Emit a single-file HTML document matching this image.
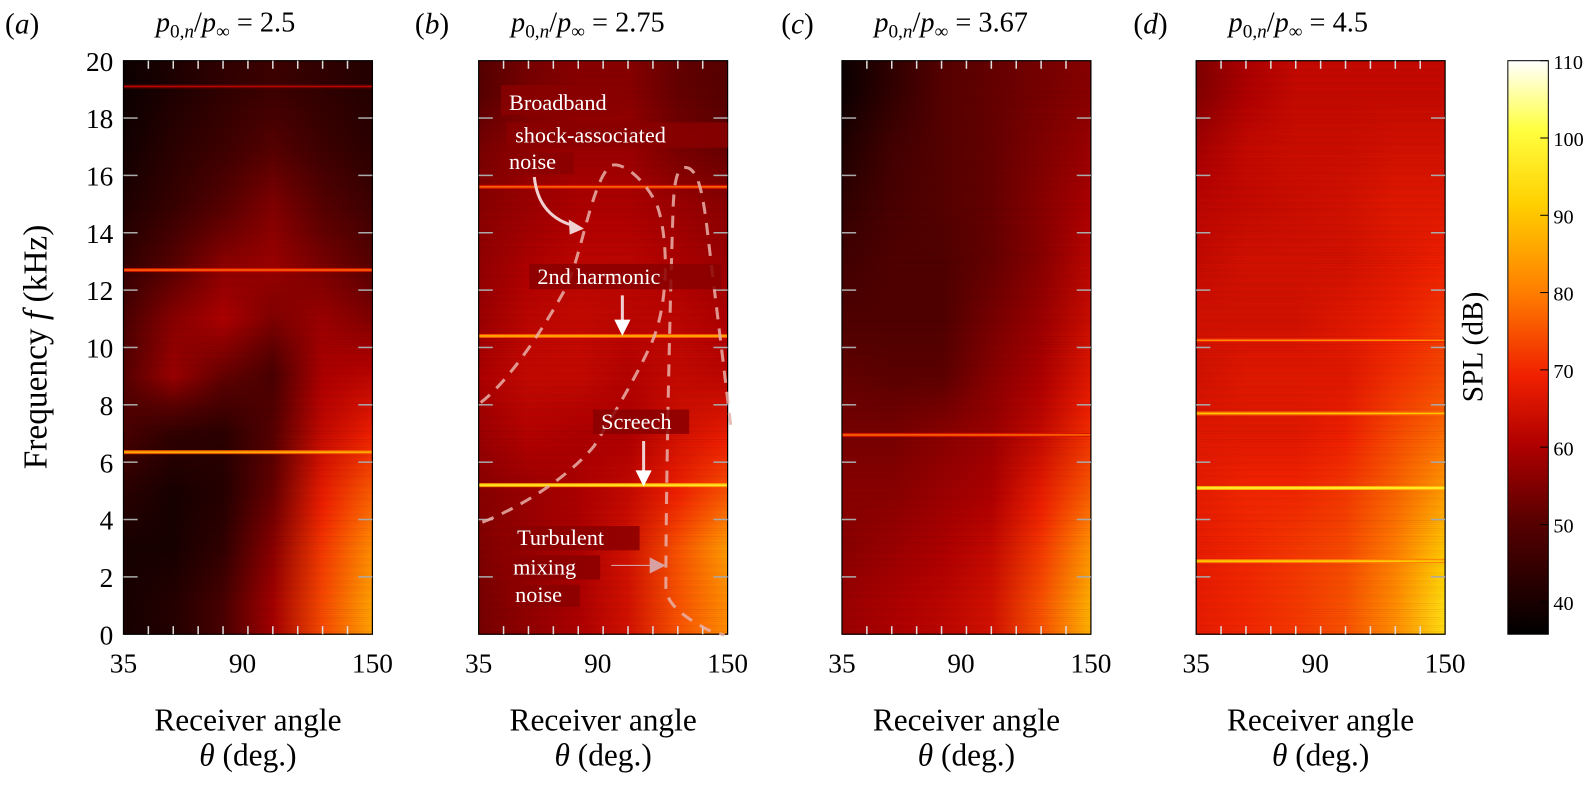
<!DOCTYPE html>
<html><head><meta charset="utf-8"><style>
html,body{margin:0;padding:0;overflow:hidden;background:#fff}
svg{display:block}
text{font-family:"Liberation Serif",serif;fill:#000}
</style></head><body>
<svg id="chart" width="1605" height="790" viewBox="0 0 1586 781" preserveAspectRatio="none" xmlns="http://www.w3.org/2000/svg">
<defs id="defs">
<linearGradient id="cbar" x1="0" y1="1" x2="0" y2="0">
<stop offset="0" stop-color="#000"/><stop offset="0.2" stop-color="#5a0000"/><stop offset="0.33" stop-color="#b00000"/><stop offset="0.45" stop-color="#f02000"/><stop offset="0.6" stop-color="#ff8000"/><stop offset="0.75" stop-color="#ffd000"/><stop offset="0.88" stop-color="#ffff40"/><stop offset="1" stop-color="#fff"/>
</linearGradient>
</defs>
<g id="root"></g>
</svg>
<script>
const angleCols=[35,58,81,104,127,150];
const freqRows=[19,17,15,13,11,9,7,5,3,1];
const titles=["2.5","2.75","3.67","4.5"];
const splA=[[38,41,44,46,44,42],[39,43,46,50,46,43],[41,45,50,55,50,46],[44,50,56,58,54,50],[48,56,60,55,58,55],[50,58,52,48,60,62],[48,44,43,50,63,69],[43,40,42,52,68,76],[40,40,44,56,72,82],[40,42,48,59,74,85]];
const splB=[[50,54,56,56,52,50],[54,57,58,58,54,52],[56,58,60,60,58,56],[57,60,62,62,60,58],[58,62,63,62,62,60],[60,63,63,61,63,62],[58,61,60,60,65,68],[56,58,60,63,69,75],[55,58,60,65,75,84],[54,57,60,65,75,82]];
const splC=[[38,44,50,52,54,56],[41,47,50,52,55,58],[44,48,50,52,56,60],[47,49,49,52,56,62],[49,49,49,54,58,64],[52,51,51,56,60,67],[54,54,56,58,63,71],[56,56,58,60,68,76],[56,58,60,63,72,83],[58,60,62,65,75,87]];
const splD=[[55,60,63,63,63,63],[59,63,64,64,65,65],[62,63,64,65,67,67],[63,65,65,65,67,69],[65,65,65,67,69,72],[65,67,67,67,71,74],[67,67,67,69,74,78],[68,70,70,72,77,84],[68,70,72,74,80,90],[68,70,72,75,82,94]];
const tonesA=[19.1,12.7,6.35];const toneLevA=[62,78,88];
const tonesB=[15.6,10.4,5.2];const toneLevB=[78,88,98];
const tonesC=[6.95];const toneLevC=[78];
const tonesD=[10.25,7.7,5.1,2.55];const toneLevD=[82,90,100,92];
const yTicks=[0,2,4,6,8,10,12,14,16,18,20];
const xTicks=[35,90,150];
const cbTicks=[40,50,60,70,80,90,100,110];

const NS="http://www.w3.org/2000/svg";
const root=document.getElementById('root');
const defs=document.getElementById('defs');
function el(t,a,p){const e=document.createElementNS(NS,t);for(const k in a)e.setAttribute(k,a[k]);(p||root).appendChild(e);return e;}
const stops=[[0,[0,0,0]],[0.2,[90,0,0]],[0.33,[176,0,0]],[0.45,[240,32,0]],[0.6,[255,128,0]],[0.75,[255,208,0]],[0.88,[255,255,64]],[1,[255,255,255]]];
function hot(v){let t=Math.max(0,Math.min(1,(v-36)/74));for(let i=1;i<stops.length;i++){if(t<=stops[i][0]){const a=stops[i-1],b=stops[i];const u=(t-a[0])/(b[0]-a[0]);const c=a[1].map((x,j)=>Math.round(x+(b[1][j]-x)*u));return `rgb(${c})`;}}return '#fff';}
const TOP=60,H=567,W=246;
const lefts=[122,473,832,1182];
const letterX=[5,410,772,1120];
const fy=f=>TOP+H*(1-f/20);
const data=[[splA,tonesA,toneLevA],[splB,tonesB,toneLevB],[splC,tonesC,toneLevC],[splD,tonesD,toneLevD]];
function valAt(grid,f,c){
 if(f>=freqRows[0])return grid[0][c];
 if(f<=freqRows[9])return grid[9][c];
 for(let r=0;r<9;r++){if(f<=freqRows[r]&&f>=freqRows[r+1]){const u=(freqRows[r]-f)/(freqRows[r]-freqRows[r+1]);return grid[r][c]+(grid[r+1][c]-grid[r][c])*u;}}
}
data.forEach((d,p)=>{
 const L=lefts[p];const ax=a=>L+W*(a-35)/115;
 const g=el('g',{});
 const cg=el('g',{},g);
 const RH=3;
 for(let y=TOP;y<TOP+H;y+=RH){
  const f=20*(1-(y+RH/2-TOP)/H);
  const id=`g${p}_${y}`;
  const lg=el('linearGradient',{id:id,x1:0,y1:0,x2:1,y2:0},defs);
  angleCols.forEach((a,c)=>{el('stop',{offset:(a-35)/115,'stop-color':hot(valAt(d[0],f,c))},lg);});
  const cell=el('rect',{x:L,y:y,width:W,height:Math.min(RH,TOP+H-y)+0.5,fill:`url(#${id})`},cg);
  
  
 }
 for(let y=TOP;y<TOP+H;y+=2){el('rect',{x:L,y:y,width:W,height:1,fill:'#000',opacity:((y*37)%11)/160},cg);}
 d[1].forEach((f,i)=>{
  const ln=el('rect',{x:L,y:fy(f)-2,width:W,height:4,fill:hot(d[2][i]-12),opacity:0.9},cg);
  
  
  const core=el('rect',{x:L,y:fy(f)-0.75,width:W,height:1.5,fill:hot(d[2][i])},cg);
  
  
 });
 el('rect',{x:L,y:TOP,width:W,height:H,fill:'none',stroke:'#000','stroke-width':1.2},g);
 for(let i=1;i<10;i++){const x=L+W*i/10;el('line',{x1:x,x2:x,y1:TOP,y2:TOP+8,stroke:'#ddd','stroke-width':1.5},g);el('line',{x1:x,x2:x,y1:TOP+H,y2:TOP+H-8,stroke:'#ddd','stroke-width':1.5},g);}
 yTicks.forEach(t=>{if(t>0&&t<20){el('line',{x1:L,x2:L+14,y1:fy(t),y2:fy(t),stroke:'#aaa','stroke-width':1.5},g);el('line',{x1:L+W-14,x2:L+W,y1:fy(t),y2:fy(t),stroke:'#aaa','stroke-width':1.5},g);}});
 xTicks.forEach(t=>{const tx=el('text',{x:ax(t),y:665,'font-size':27,'text-anchor':'middle'},g);tx.textContent=t;});
 const xl=el('text',{x:L+W/2,y:722,'font-size':31,'text-anchor':'middle'},g);xl.textContent='Receiver angle';
 const xl2=el('text',{x:L+W/2,y:757,'font-size':31,'text-anchor':'middle'},g);xl2.innerHTML='<tspan font-style="italic">θ</tspan> (deg.)';
 const pl=el('text',{x:letterX[p],y:33,'font-size':29},g);pl.innerHTML='(<tspan font-style="italic">'+'abcd'[p]+'</tspan>)';
 const tt=el('text',{x:L+32,y:31,'font-size':28},g);
 tt.innerHTML='<tspan font-style="italic">p</tspan><tspan font-size="19" dy="6">0,<tspan font-style="italic">n</tspan></tspan><tspan dy="-6">/</tspan><tspan font-style="italic">p</tspan><tspan font-size="19" dy="6">∞</tspan><tspan dy="-6"> = '+titles[p]+'</tspan>';
 
});
yTicks.forEach(t=>{const tx=el('text',{x:112,y:fy(t)+10,'font-size':27,'text-anchor':'end'});tx.textContent=t;});
const yl=el('text',{x:0,y:0,'font-size':33,'text-anchor':'middle',transform:'translate(46,343) rotate(-90)'});
yl.innerHTML='Frequency <tspan font-style="italic">f</tspan>  (kHz)';
const an=el('g',{});
const dash={fill:'none',stroke:'#e8b0a8','stroke-width':3,'stroke-dasharray':'12 9',opacity:0.85};
el('path',Object.assign({d:'M475,398 C505,375 540,320 560,283 C575,250 585,180 603,164 C615,158 640,180 650,205 C660,235 662,300 643,341 C625,380 600,420 587,441 C570,462 530,495 475,517'},dash),an);
el('path',Object.assign({d:'M722,420 C715,360 705,280 698,220 C694,190 690,170 680,166 C670,163 666,175 665,210 C662,300 658,480 658,582 C660,600 680,612 700,623 L716,628'},dash),an);
const boxes=[[495,84,118,30,'Broadband'],[501,121,218,25,'shock-associated'],[495,151,72,21,'noise'],[523,261,190,25,'2nd harmonic'],[586,405,95,24,'Screech'],[503,520,129,24,'Turbulent'],[499,549,94,24,'mixing'],[501,578,72,22,'noise']];
boxes.forEach(b=>{const r=el('rect',{x:b[0],y:b[1],width:b[2],height:b[3],fill:'#8a0000',opacity:0.85},an);
 const t=el('text',{x:b[0]+8,y:b[1]+b[3]-5,'font-size':22,style:'fill:#fff'},an);t.textContent=b[4];});
const ar={stroke:'#f0d0d0','stroke-width':3,fill:'none'};
el('path',Object.assign({d:'M528,175 Q532,215 570,224'},ar),an);el('path',{d:'M577,226 L562,217 L563,232 Z',fill:'#f0d0d0'},an);
el('line',Object.assign({x1:615,y1:292,x2:615,y2:322},ar),an);el('path',{d:'M615,332 L607,316 L623,316 Z',fill:'#fff'},an);
el('line',Object.assign({x1:636,y1:436,x2:636,y2:470},ar),an);el('path',{d:'M636,481 L628,465 L644,465 Z',fill:'#fff'},an);
el('line',Object.assign({x1:604,y1:559,x2:648,y2:559,stroke:'#d8a0a0'}),an);el('path',{d:'M658,559 L642,551 L642,567 Z',fill:'#d8a0a0'},an);
const cb=el('g',{});
el('rect',{x:1490,y:TOP,width:40,height:H,fill:'url(#cbar)',stroke:'#000','stroke-width':1},cb);
const cy=v=>TOP+H*(1-(v-35.8)/74.2);
cbTicks.forEach(v=>{el('line',{x1:1522,x2:1530,y1:cy(v),y2:cy(v),stroke:'#000'},cb);
 const t=el('text',{x:1535,y:cy(v)+8,'font-size':20},cb);t.textContent=v;});
const cl=el('text',{x:0,y:0,'font-size':29,'text-anchor':'middle',transform:'translate(1465,343) rotate(-90)'},cb);cl.textContent='SPL (dB)';
</script>
</body></html>
